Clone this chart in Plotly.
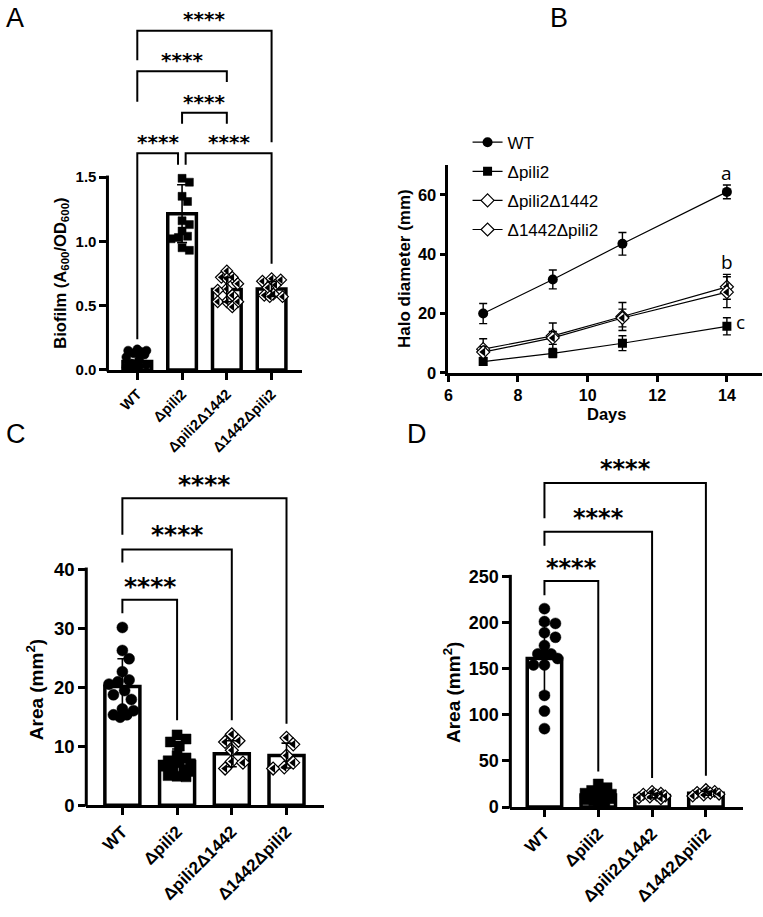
import plotly.graph_objects as go

W, H = 763, 917
def xp(px): return px / W
def yp(py): return 1 - py / H

groups = ["WT", "Δpili2", "Δpili2Δ1442", "Δ1442Δpili2"]

# ---------------- Panel A: biofilm ----------------
a_means = [0.065, 1.215, 0.625, 0.63]
a_sds = [0.05, 0.225, 0.095, 0.058]
a_wt = [0.16, 0.15, 0.15, 0.14, 0.13, 0.12, 0.10, 0.08, 0.05, 0.04, 0.03, 0.02, 0.02]
a_pili2 = [1.49, 1.46, 1.35, 1.31, 1.16, 1.13, 1.08, 1.04, 1.03, 1.02, 0.95, 0.93]
a_p2d1442 = [0.77, 0.72, 0.72, 0.71, 0.67, 0.63, 0.62, 0.58, 0.53, 0.53, 0.53, 0.49]
a_d1442p2 = [0.71, 0.70, 0.69, 0.66, 0.64, 0.59, 0.58, 0.57, 0.57]
a_ticks = [0, 0.5, 1.0, 1.5]
a_ticktext = ["0.0", "0.5", "1.0", "1.5"]

# ---------------- Panel B: halo diameter ----------------
days = [7, 9, 11, 14]
b_wt = [20.0, 31.5, 43.5, 61.0]
b_wt_sd = [3.4, 3.2, 3.8, 2.3]
b_pili2 = [3.8, 6.6, 10.0, 15.7]
b_pili2_sd = [1.2, 1.4, 2.5, 2.9]
b_p2d1442 = [8.0, 12.5, 19.0, 29.0]
b_p2d1442_sd = [3.5, 4.3, 4.7, 4.2]
b_d1442p2 = [7.0, 11.8, 18.5, 27.2]
b_d1442p2_sd = [1.8, 2.2, 3.0, 5.2]
b_letters = ["a", "b", "c"]

# ---------------- Panel C: area ----------------
c_means = [20.1, 7.4, 8.7, 8.4]
c_sds = [4.7, 2.1, 2.2, 2.1]
c_wt = [30.1, 26.2, 24.8, 22.6, 21.2, 20.9, 20.5, 19.4, 18.7, 17.9, 16.3, 16.0, 15.3, 15.3, 14.9]
c_pili2 = [11.9, 11.2, 10.7, 10.0, 8.4, 8.0, 7.5, 7.2, 7.0, 6.6, 6.4, 6.0, 5.7, 5.0, 4.9, 4.8]
c_p2d1442 = [12.0, 10.9, 10.7, 9.3, 7.4, 7.2, 6.2]
c_d1442p2 = [11.4, 10.3, 8.4, 7.2, 6.4, 6.2]
c_ticks = [0, 10, 20, 30, 40]

# ---------------- Panel D: area ----------------
d_means = [161, 13, 12.5, 15]
d_sds = [37, 5, 2.5, 2.0]
d_wt = [215, 201, 199, 189, 184, 175, 166, 166, 165, 161, 154, 154, 121, 104, 85]
d_pili2 = [25, 21, 18, 16, 15, 14, 13, 12, 11, 10, 9, 8, 7, 6, 5]
d_p2d1442 = [17, 15, 14, 13, 12, 11, 10, 9]
d_d1442p2 = [19, 17, 16, 15, 14, 13, 12]
d_ticks = [0, 50, 100, 150, 200, 250]

stars = "****"

# ---------------- layout geometry (pixels) ----------------
panels = {
    "A": dict(ax="", x0=104, x1=300, cat0=134, ppc=45, y0px=374, ppu=130.0, ytop=2.8),
    "C": dict(ax="3", x0=82.7, x1=321.7, cat0=119, ppc=55, y0px=814, ppu=5.9675, ytop=56),
    "D": dict(ax="4", x0=509, x1=742.7, cat0=543.3, ppc=54.1, y0px=816, ppu=0.9332, ytop=380),
}

FONT = "Liberation Sans"
fig = go.Figure()


def swarm(vals, ppu, ppc, d, maxoff=0.245):
    maxpx = maxoff * ppc
    n = 6
    cands = [0.0]
    for i in range(1, n + 1):
        cands += [i * maxpx / n, -i * maxpx / n]
    placed, offs = [], []
    for v in vals:
        ypx = v * ppu
        best, bestd = None, -1
        chosen = None
        for c in cands:
            md = min([((c - px) ** 2 + (ypx - py) ** 2) ** 0.5 for px, py in placed] or [1e9])
            if md >= 0.92 * d:
                chosen = c
                break
            if md > bestd:
                best, bestd = c, md
        if chosen is None:
            chosen = best
        placed.append((chosen, ypx))
        offs.append(chosen / ppc)
    return offs


def add_diamonds(xs, ys, size, xa, ya, name=None, legend=False, lg=None, line=False, err=None):
    tr = dict(x=xs, y=ys, xaxis=xa, yaxis=ya, hoverinfo="skip",
              marker=dict(symbol="diamond", size=size, color="white",
                          line=dict(color="black", width=1.2)))
    if line:
        tr.update(mode="lines+markers", line=dict(color="black", width=1.2),
                  error_y=dict(type="data", array=err, color="black", thickness=1.4, width=4))
    else:
        tr.update(mode="markers")
    fig.add_trace(go.Scatter(name=name, showlegend=legend, legendgroup=lg, **tr))
    fig.add_trace(go.Scatter(x=xs, y=ys, mode="markers", xaxis=xa, yaxis=ya, hoverinfo="skip",
                             showlegend=False, legendgroup=lg,
                             marker=dict(symbol="triangle-left", size=size * 0.78, color="black",
                                         line=dict(width=0))))


def bar_panel(key, means, sds, pts_list, sizes):
    p = panels[key]
    xa = "x" + p["ax"]
    ya = "y" + p["ax"]
    fig.add_trace(go.Bar(x=list(range(4)), y=means, width=0.64,
                         marker=dict(color="white", line=dict(color="black", width=3.5)),
                         xaxis=xa, yaxis=ya, showlegend=False, hoverinfo="skip"))
    symbols = ["circle", "square", "diamond", "diamond"]
    for i, pts in enumerate(pts_list):
        offs = swarm(pts, p["ppu"], p["ppc"], sizes[i])
        xs = [i + o for o in offs]
        if symbols[i] == "diamond":
            add_diamonds(xs, pts, sizes[i], xa, ya)
        else:
            fig.add_trace(go.Scatter(x=xs, y=pts, mode="markers",
                                     marker=dict(symbol=symbols[i], size=sizes[i], color="black",
                                                 line=dict(color="black", width=0.5)),
                                     xaxis=xa, yaxis=ya, showlegend=False, hoverinfo="skip"))
    fig.add_trace(go.Scatter(x=list(range(4)), y=means, mode="markers",
                             marker=dict(size=1, opacity=0),
                             error_y=dict(type="data", array=sds, color="black",
                                          thickness=1.6, width=5),
                             xaxis=xa, yaxis=ya, showlegend=False, hoverinfo="skip"))


bar_panel("A", a_means, a_sds, [a_wt, a_pili2, a_p2d1442, a_d1442p2], [9, 8, 9, 9])
bar_panel("C", c_means, c_sds, [c_wt, c_pili2, c_p2d1442, c_d1442p2], [11, 10, 10, 10])
bar_panel("D", d_means, d_sds, [d_wt, d_pili2, d_p2d1442, d_d1442p2], [11, 10, 9, 9])

# ---------------- Panel B traces ----------------
fig.add_trace(go.Scatter(x=days, y=b_wt, name="WT", mode="lines+markers",
                         line=dict(color="black", width=1.2),
                         marker=dict(symbol="circle", size=10, color="black"),
                         error_y=dict(type="data", array=b_wt_sd, color="black", thickness=1.4, width=4),
                         xaxis="x2", yaxis="y2", legendgroup="g0"))
fig.add_trace(go.Scatter(x=days, y=b_pili2, name="Δpili2", mode="lines+markers",
                         line=dict(color="black", width=1.2),
                         marker=dict(symbol="square", size=9, color="black"),
                         error_y=dict(type="data", array=b_pili2_sd, color="black", thickness=1.4, width=4),
                         xaxis="x2", yaxis="y2", legendgroup="g1"))
add_diamonds(days, b_p2d1442, 10, "x2", "y2", name="Δpili2Δ1442", legend=True, lg="g2",
             line=True, err=b_p2d1442_sd)
add_diamonds(days, b_d1442p2, 10, "x2", "y2", name="Δ1442Δpili2", legend=True, lg="g3",
             line=True, err=b_d1442p2_sd)

# ---------------- axes ----------------
def tickfont(s):
    return dict(family=FONT, size=s, color="black", weight="bold")

layout = dict(width=W, height=H, margin=dict(l=0, r=0, t=0, b=0),
              paper_bgcolor="white", plot_bgcolor="white", showlegend=True,
              legend=dict(x=xp(466), y=yp(126), xanchor="left", yanchor="top",
                          font=dict(family=FONT, size=17, color="black"),
                          bgcolor="rgba(0,0,0,0)", tracegroupgap=4, traceorder="grouped"))

shapes = []
annotations = []

tick_sizes = {"A": (15, 14.5), "C": (18.5, 17), "D": (18, 17)}
yticks = {"A": (a_ticks, a_ticktext), "C": (c_ticks, [str(t) for t in c_ticks]),
          "D": (d_ticks, [str(t) for t in d_ticks])}
for key, p in panels.items():
    xr0 = (p["x0"] - p["cat0"]) / p["ppc"]
    xr1 = (p["x1"] - p["cat0"]) / p["ppc"]
    top_px = p["y0px"] - p["ytop"] * p["ppu"]
    xname = "xaxis" + p["ax"]
    yname = "yaxis" + p["ax"]
    ys, xs = tick_sizes[key]
    tv, tt = yticks[key]
    layout[xname] = dict(domain=[xp(p["x0"]), xp(p["x1"])], range=[xr0, xr1],
                         anchor="y" + p["ax"], tickvals=list(range(4)), ticktext=groups,
                         tickangle=-45, showline=True, linewidth=3, linecolor="black",
                         ticks="outside", ticklen=7, tickwidth=3, tickcolor="black",
                         tickfont=tickfont(xs), showgrid=False, zeroline=False, fixedrange=True)
    layout[yname] = dict(domain=[yp(p["y0px"]), yp(top_px)], range=[0, p["ytop"]],
                         anchor="x" + p["ax"], tickvals=tv, ticktext=tt,
                         showline=False, ticks="outside", ticklen=7, tickwidth=3,
                         tickcolor="black", tickfont=tickfont(ys), showgrid=False,
                         zeroline=False, fixedrange=True)
    shapes.append(dict(type="line", xref="paper", yref="paper",
                       x0=xp(p["x0"]), x1=xp(p["x0"]),
                       y0=yp(p["y0px"] + 1.5), y1=yp(p["y0px"] - tv[-1] * p["ppu"] - 1.5),
                       line=dict(color="black", width=3)))

layout["xaxis2"] = dict(domain=[xp(446.7), xp(761.7)], range=[6, 15], anchor="y2",
                        tickvals=[6, 8, 10, 12, 14], showline=True, linewidth=2.5,
                        linecolor="black", ticks="outside", ticklen=6, tickwidth=2.5,
                        tickcolor="black", tickfont=tickfont(16), showgrid=False,
                        zeroline=False, fixedrange=True)
layout["yaxis2"] = dict(domain=[yp(377), yp(167)], range=[0, 70], anchor="x2",
                        tickvals=[0, 20, 40, 60], showline=True, linewidth=2.5,
                        linecolor="black", ticks="outside", ticklen=6, tickwidth=2.5,
                        tickcolor="black", tickfont=tickfont(16.5), showgrid=False,
                        zeroline=False, fixedrange=True)

# ---------------- significance brackets ----------------
# (axis suffix, left group, right group, bracket y, left leg bottom, right leg bottom, stars y)
brackets = [
    ("", 0, 3, 2.638, 2.408, 1.77, 2.73),
    ("", 0, 2, 2.323, 2.085, 2.24, 2.41),
    ("", 1, 2, 2.0, 1.915, 1.915, 2.085),
    ("", 0, 0.91, 1.685, 0.238, 1.595, 1.77),
    ("", 1.08, 3, 1.685, 1.595, 0.825, 1.77),
    ("3", 0, 3, 52.0, 45.8, 13.8, 54.3),
    ("3", 0, 2, 43.3, 41.1, 14.4, 45.8),
    ("3", 0, 1, 34.8, 32.5, 14.4, 37.1),
    ("4", 0, 3, 351, 312.9, 34, 366.4),
    ("4", 0, 2, 298.2, 283.2, 31.4, 312.9),
    ("4", 0, 1, 245, 229.6, 38.6, 259.3),
]
star_size = {"": 20, "3": 25, "4": 24}
for ax, g0, g1, yh, yl, yr, ys in brackets:
    shapes.append(dict(type="path", xref="x" + ax, yref="y" + ax,
                       path="M %f,%f L %f,%f L %f,%f L %f,%f" % (g0, yl, g0, yh, g1, yh, g1, yr),
                       line=dict(color="black", width=2)))
    annotations.append(dict(x=(g0 + g1) / 2, y=ys, xref="x" + ax, yref="y" + ax,
                            text=stars, showarrow=False, yanchor="middle",
                            font=dict(family="DejaVu Sans", size=star_size[ax], color="black",
                                      weight="bold")))

for txt, xv, yv in zip(b_letters, [14, 14, 14.38], [67.3, 37.3, 17.3]):
    annotations.append(dict(x=xv, y=yv, xref="x2", yref="y2", text=txt, showarrow=False,
                            font=dict(family="Open Sans", size=19, color="black")))

# axis titles
titles = [
    ("Biofilm (A<sub>600</sub>/OD<sub>600</sub>)", 57, 276, 16.5, -90),
    ("Halo diameter (mm)", 402, 271, 17, -90),
    ("Area (mm<sup>2</sup>)", 32, 697, 19, -90),
    ("Area (mm<sup>2</sup>)", 451, 700, 19, -90),
    ("Days", 606, 419, 16.5, 0),
]
for txt, xpx, ypx, sz, ang in titles:
    annotations.append(dict(x=xp(xpx), y=yp(ypx), xref="paper", yref="paper", text=txt,
                            textangle=ang, showarrow=False, xanchor="center", yanchor="middle",
                            font=dict(family=FONT, size=sz, color="black", weight="bold")))

for txt, xpx, ypx in [("A", 0, 1), ("B", 547, 1), ("C", 0, 422), ("D", 403, 422)]:
    annotations.append(dict(x=xp(xpx), y=yp(ypx), xref="paper", yref="paper", text=txt,
                            showarrow=False, xanchor="left", yanchor="top",
                            font=dict(family=FONT, size=27, color="black")))

layout["shapes"] = shapes
layout["annotations"] = annotations
fig.update_layout(**layout)
fig.write_html("out.html")
